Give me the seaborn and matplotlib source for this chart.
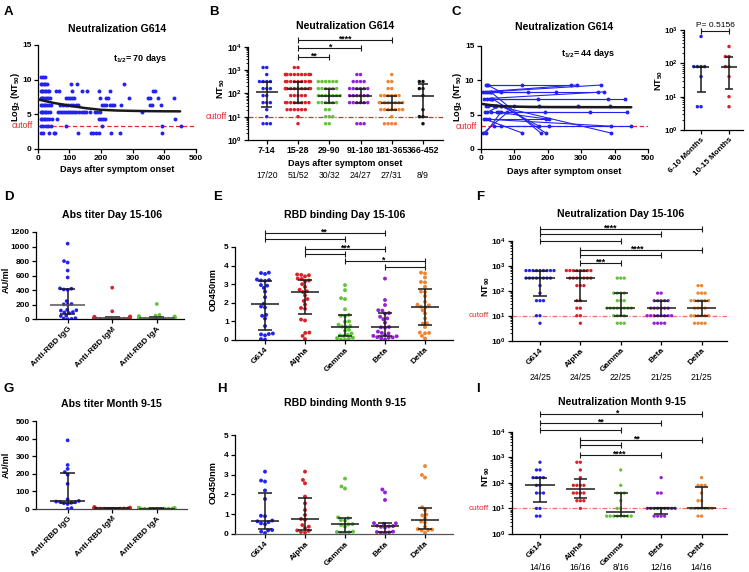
import warnings
warnings.filterwarnings('ignore')
import numpy as np
import pandas as pd
import matplotlib
matplotlib.use('Agg')
import matplotlib.pyplot as plt
import matplotlib.transforms as mtrans
from matplotlib.ticker import FixedLocator, FixedFormatter, NullFormatter
import seaborn as sns

# ---------------- DATA ----------------
# Panel A: log2(NT50) levels and days per level
a_levels = [10.32, 9.32, 8.32, 7.32, 6.32, 5.32, 4.32, 3.32, 2.32]
a_days_l10 = [11, 16, 22]
a_days_l9 = [11, 15, 19, 24, 29, 106, 124, 272]
a_days_l8 = [10, 14, 18, 22, 26, 31, 36, 58, 66, 109, 141, 157, 193, 228, 365, 372]
a_days_l7 = [10, 14, 18, 23, 28, 33, 38, 88, 95, 102, 109, 116, 196, 215, 222, 289, 347, 356, 381, 431]
a_days_l6 = [10, 14, 19, 24, 30, 36, 42, 69, 81, 88, 95, 106, 113, 120, 127, 203, 210, 217, 228, 235,
             241, 264, 354, 362, 389]
a_days_l5 = [9, 13, 17, 22, 27, 33, 38, 63, 69, 76, 82, 88, 95, 101, 108, 115, 122, 132, 139, 146,
             153, 164, 180, 187, 196, 331]
a_days_l4 = [10, 14, 19, 24, 30, 37, 44, 61, 193, 200, 207, 214, 434]
a_days_l3 = [11, 18, 25, 34, 42, 88, 204, 394, 452]
a_days_l2 = [11, 16, 37, 53, 56, 127, 169, 176, 183, 193, 230, 259, 394]
a_fit_days = [0, 25, 50, 75, 100, 150, 200, 250, 300, 350, 400, 450]
a_fit_vals = [7.17, 6.9, 6.65, 6.45, 6.25, 5.9, 5.65, 5.55, 5.5, 5.46, 5.44, 5.43]

# Panel B: NT50 by days after onset
b_cats = ['7-14', '15-28', '29-90', '91-180', '181-365', '366-452']
b_counts = ['17/20', '51/52', '30/32', '24/27', '27/31', '8/9']
b_7_14 = [1280, 1280, 640, 320, 320, 320, 320, 160, 160, 160, 80, 80, 40, 40, 40, 20, 10, 5, 5, 5]
b_15_28 = [1280, 1280, 640, 640, 640, 640, 640, 640, 640, 640, 640, 640, 320, 320, 320, 320, 320, 320,
           320, 320, 320, 160, 160, 160, 160, 160, 160, 160, 160, 160, 160, 80, 80, 80, 80, 80,
           40, 40, 40, 40, 40, 40, 40, 40, 20, 20, 20, 20, 20, 20, 10, 5]
b_29_90 = [320, 320, 320, 320, 320, 320, 160, 160, 160, 160, 160, 160, 80, 80, 80, 80, 80, 80, 80,
           40, 40, 40, 40, 40, 40, 20, 20, 10, 10, 10, 5, 5]
b_91_180 = [640, 640, 320, 320, 320, 320, 160, 160, 160, 160, 160, 160, 80, 80, 80, 80, 80, 80,
            40, 40, 40, 40, 40, 40, 5, 5, 5]
b_181_365 = [640, 320, 320, 160, 160, 80, 80, 80, 80, 80, 80, 40, 40, 40, 40, 40, 40, 40, 40,
             20, 20, 20, 20, 20, 20, 20, 10, 5, 5, 5, 5]
b_366_452 = [320, 320, 160, 160, 80, 20, 10, 10, 5]

# Panel C: paired samples (log2 NT50)
c_day1 = [15, 22, 8, 12, 18, 25, 30, 10, 20, 28, 35, 15, 22, 40, 45, 12, 30, 50, 18, 55, 10, 25,
          15, 40, 60, 8, 15, 30, 35, 45, 60, 20]
c_val1 = [9.32, 9.32, 8.32, 8.32, 8.32, 8.32, 8.32, 7.32, 7.32, 7.32, 7.32, 6.32, 6.32, 6.32, 6.32,
          5.32, 5.32, 5.32, 5.32, 5.32, 4.32, 4.32, 4.32, 3.32, 3.32, 2.32, 2.32, 8.32, 7.32, 6.32,
          6.32, 9.32]
c_day2 = [123, 270, 287, 143, 225, 361, 350, 370, 172, 382, 432, 100, 387, 173, 290, 193, 327, 437,
          60, 205, 195, 390, 125, 450, 205, 80, 60, 180, 195, 390, 175, 60]
c_val2 = [9.32, 9.32, 9.32, 8.32, 8.32, 9.32, 8.32, 8.32, 7.32, 7.32, 7.32, 6.32, 6.32, 6.32, 6.32,
          5.32, 5.32, 5.32, 6.32, 4.32, 4.32, 3.32, 2.32, 3.32, 3.32, 5.32, 5.32, 2.32, 2.32, 2.32,
          3.32, 8.32]
c_fit_days = [0, 25, 50, 75, 100, 150, 200, 300, 450]
c_fit_vals = [6.6, 6.42, 6.3, 6.22, 6.17, 6.12, 6.1, 6.09, 6.08]
ci_cats = ['6-10 Months', '10-15 Months']
ci_early = [640, 80, 80, 80, 80, 40, 5, 5]
ci_late = [320, 160, 160, 80, 80, 40, 10, 5]

# Panel D / G: antibody titers (AU/ml)
ab_cats = ['Anti-RBD IgG', 'Anti-RBD IgM', 'Anti-RBD IgA']
d_igg = [1040, 800, 780, 670, 575, 425, 420, 410, 405, 250, 210, 205, 200, 130, 125, 120, 100, 95,
         85, 50, 45, 15, 10, 5, 2]
d_igm = [435, 110, 40, 35, 30, 28, 25, 22, 20, 18, 16, 15, 14, 12, 11, 10, 9, 8, 7, 6, 5, 4, 3, 2, 1]
d_iga = [210, 60, 50, 45, 40, 35, 30, 28, 25, 22, 20, 18, 16, 14, 12, 10, 9, 8, 7, 6, 5, 4, 3, 2, 1]
g_igg = [390, 250, 228, 210, 195, 143, 55, 46, 42, 40, 38, 35, 33, 28, 5, 1]
g_igm = [12, 8, 6, 5, 5, 4, 4, 3, 3, 3, 2, 2, 2, 1, 1, 1]
g_iga = [8, 6, 5, 4, 4, 3, 3, 3, 2, 2, 2, 2, 1, 1, 1, 1]

# Panel E / H: RBD binding (OD450nm)
var_cats = ['G614', 'Alpha', 'Gamma', 'Beta', 'Delta']
e_g614 = [3.62, 3.6, 3.55, 3.25, 3.22, 3.2, 3.18, 2.95, 2.92, 2.8, 2.6, 2.3, 1.95, 1.8, 1.75, 1.35,
          1.3, 1.15, 0.75, 0.35, 0.32, 0.3, 0.25, 0.05, 0.02]
e_alpha = [3.52, 3.5, 3.48, 3.42, 3.3, 3.28, 3.2, 3.15, 3.0, 2.85, 2.7, 2.62, 2.58, 2.4, 2.2, 2.1,
           1.9, 1.72, 1.68, 1.1, 1.05, 0.4, 0.38, 0.22, 0.05]
e_gamma = [2.95, 2.68, 2.25, 2.2, 1.65, 1.35, 1.3, 1.28, 1.0, 0.98, 0.82, 0.75, 0.72, 0.7, 0.55,
           0.5, 0.35, 0.28, 0.25, 0.22, 0.12, 0.1, 0.08, 0.03, 0.02]
e_beta = [3.3, 2.15, 1.88, 1.6, 1.58, 1.45, 1.42, 1.25, 1.16, 1.12, 0.93, 0.7, 0.68, 0.66, 0.45,
          0.38, 0.35, 0.25, 0.22, 0.2, 0.15, 0.14, 0.12, 0.1, 0.03]
e_delta = [3.62, 3.58, 3.36, 3.12, 3.1, 2.86, 2.6, 2.58, 2.36, 2.05, 1.9, 1.86, 1.79, 1.76, 1.6,
           1.43, 1.16, 0.9, 0.88, 0.7, 0.4, 0.38, 0.36, 0.22, 0.08]
h_g614 = [3.15, 2.7, 2.65, 2.2, 1.77, 0.92, 0.9, 0.68, 0.64, 0.6, 0.54, 0.5, 0.2, 0.18, 0.12, 0.05]
h_alpha = [3.15, 2.73, 2.56, 1.89, 1.55, 1.21, 0.96, 0.76, 0.72, 0.45, 0.37, 0.3, 0.18, 0.16, 0.1, 0.08]
h_gamma = [2.8, 2.4, 2.3, 0.84, 0.8, 0.7, 0.68, 0.5, 0.48, 0.45, 0.38, 0.12, 0.1, 0.08, 0.06, 0.05]
h_beta = [2.25, 2.1, 1.72, 0.55, 0.54, 0.52, 0.42, 0.4, 0.38, 0.36, 0.33, 0.12, 0.1, 0.08, 0.06, 0.05]
h_delta = [3.43, 2.98, 2.85, 1.35, 1.21, 0.98, 0.94, 0.79, 0.63, 0.57, 0.37, 0.25, 0.22, 0.2, 0.18, 0.07]

# Panel F / I: NT90
f_counts = ['24/25', '24/25', '22/25', '21/25', '21/25']
f_g614 = [640, 640, 640, 640, 640, 640, 640, 640, 640, 320, 320, 320, 320, 320, 320, 320, 320,
          160, 80, 40, 40, 40, 10, 10, 5]
f_alpha = [640, 640, 640, 640, 640, 640, 640, 640, 320, 320, 320, 320, 320, 320, 320, 160, 160, 160,
           40, 40, 20, 20, 10, 10, 5]
f_gamma = [320, 320, 320, 80, 80, 80, 80, 40, 40, 40, 20, 20, 20, 20, 20, 20, 20, 20, 10, 10, 10, 10,
           5, 5, 5]
f_beta = [80, 80, 40, 40, 40, 40, 40, 20, 20, 20, 20, 20, 20, 10, 10, 10, 10, 10, 10, 10, 10,
          5, 5, 5, 5]
f_delta = [160, 160, 80, 80, 80, 40, 40, 40, 40, 40, 40, 20, 20, 20, 20, 10, 10, 10, 10, 10, 10,
           5, 5, 5, 5]
i_counts = ['14/16', '16/16', '8/16', '12/16', '14/16']
i_g614 = [640, 320, 320, 160, 160, 160, 160, 80, 80, 40, 40, 40, 10, 10, 5, 5]
i_alpha = [640, 640, 320, 160, 80, 80, 80, 80, 40, 40, 40, 40, 20, 20, 20, 10]
i_gamma = [320, 80, 40, 40, 40, 20, 10, 10, 5, 5, 5, 5, 5, 5, 5, 5]
i_beta = [160, 40, 40, 10, 10, 10, 10, 10, 10, 10, 10, 10, 5, 5, 5, 5]
i_delta = [160, 80, 80, 80, 40, 20, 20, 10, 10, 10, 10, 10, 10, 10, 5, 5]

# significance brackets (x1, x2, y) and labels (text, x, y)
b_br = [(1, 4, 10**4.29), (1, 3, 10**3.93), (1, 2, 10**3.57)]
b_lab = [('****', 2.5, 10**4.29), ('*', 2.0, 10**3.93), ('**', 1.5, 10**3.57)]
e_br = [(0, 3, 5.74), (0, 2, 5.41), (1, 3, 4.88), (1, 2, 4.62), (2, 4, 4.25), (3, 4, 3.94)]
e_lab = [('**', 1.45, 5.74), ('***', 2.0, 4.88), ('*', 2.95, 4.25)]
f_br = [(0, 4, 10**4.456), (0, 3, 10**4.256), (0, 2, 10**3.99), (1, 4, 10**3.63), (1, 3, 10**3.42),
        (1, 2, 10**3.12)]
f_lab = [('****', 1.73, 10**4.456), ('****', 2.39, 10**3.63), ('***', 1.49, 10**3.12)]
i_br = [(0, 4, 10**4.68), (0, 3, 10**4.33), (0, 2, 10**4.07), (1, 4, 10**3.68), (1, 2, 10**3.48),
        (1, 3, 10**3.09)]
i_lab = [('*', 1.9, 10**4.68), ('**', 1.49, 10**4.33), ('**', 2.38, 10**3.68), ('****', 1.96, 10**3.09)]

BLUE = '#2323f0'; RED = '#dc2027'; GREEN = '#62c43a'; PURPLE = '#9420d8'; ORANGE = '#ee8531'
BLACK = '#111111'; CUT = '#e8272b'
var_colors = [BLUE, RED, GREEN, PURPLE, ORANGE]

# ---------------- STYLE ----------------
sns.set_theme(style='ticks')
plt.rcParams.update({
    'font.family': ['Liberation Sans', 'DejaVu Sans'],
    'font.weight': 'bold',
    'mathtext.fontset': 'custom',
    'mathtext.rm': 'Liberation Sans',
    'mathtext.bf': 'Liberation Sans:bold',
    'mathtext.it': 'Liberation Sans:italic',
    'mathtext.sf': 'Liberation Sans',
    'mathtext.default': 'bf',
    'axes.linewidth': 0.9,
    'axes.edgecolor': 'black',
    'xtick.color': 'black', 'ytick.color': 'black',
    'text.color': 'black', 'axes.labelcolor': 'black',
})

W, H = 749, 572
fig = plt.figure(figsize=(W / 100, H / 100), dpi=100)
fig.patch.set_facecolor('white')


def px_ax(l, r, t, b):
    ax = fig.add_axes([l / W, 1 - b / H, (r - l) / W, (b - t) / H])
    ax._px = (l, r, t, b)
    return ax


def ftext(x, y, s, **kw):
    kw.setdefault('ha', 'center')
    kw.setdefault('va', 'center')
    return fig.text(x / W, 1 - y / H, s, **kw)


def ax_x(ax, xpx):
    l, r, t, b = ax._px
    return (xpx - l) / (r - l)


def ax_y(ax, ypx):
    l, r, t, b = ax._px
    return (b - ypx) / (b - t)


def style(ax, labelsize=6):
    sns.despine(ax=ax)
    ax.set_facecolor('white')
    ax.grid(False)
    ax.tick_params(which='major', length=3, width=0.9, labelsize=labelsize, pad=1.5, direction='out')
    ax.tick_params(which='minor', length=1.7, width=0.6, direction='out')
    ax.set_xlabel('')
    ax.set_ylabel('')


def log_axis(ax, top_exp):
    ax.set_yscale('log')
    ax.yaxis.set_major_locator(FixedLocator([10 ** e for e in range(top_exp + 1)]))
    ax.yaxis.set_major_formatter(FixedFormatter([r'$10^{%d}$' % e for e in range(top_exp + 1)]))
    ax.yaxis.set_minor_locator(FixedLocator([k * 10 ** e for e in range(top_exp) for k in range(2, 10)]))
    ax.yaxis.set_minor_formatter(NullFormatter())
    ax.spines['left'].set_bounds(1, 10 ** top_exp)


def cutoff(ax, y, xpx_right, ls, color=CUT, alpha=1.0, fs=6.3):
    ax.axhline(y, color=color, ls=ls, lw=0.9, zorder=1, alpha=alpha)
    tr = mtrans.blended_transform_factory(ax.transAxes, ax.transData)
    ax.text(ax_x(ax, xpx_right), y, 'cutoff', transform=tr, ha='right', va='center', color=CUT,
            fontsize=fs, fontweight='normal', clip_on=False)


def counts(ax, labels, ypx):
    tr = mtrans.blended_transform_factory(ax.transData, ax.transAxes)
    for i, s in enumerate(labels):
        ax.text(i, ax_y(ax, ypx), s, transform=tr, ha='center', va='center', fontsize=6.2,
                fontweight='normal', clip_on=False)


def swarm(ax, groups, names, colors, size, log=False):
    df = pd.DataFrame({'group': np.repeat(names, [len(g) for g in groups]),
                       'value': np.concatenate([np.asarray(g, float) for g in groups])})
    sns.swarmplot(data=df, x='group', y='value', hue='group', order=names, hue_order=names,
                  palette=colors, size=size, linewidth=0, legend=False, ax=ax,
                  log_scale=True if log else None, zorder=2, warn_thresh=1)


def med_iqr(ax, groups, med_w=0.33, cap_w=0.16, color='k', lw=1.1, med_color=None):
    for i, g in enumerate(groups):
        q1, med, q3 = np.percentile(g, [25, 50, 75], method='weibull')
        ax.vlines(i, q1, q3, color=color, lw=lw, zorder=3)
        ax.hlines([q1, q3], i - cap_w, i + cap_w, color=color, lw=lw, zorder=3)
        ax.hlines(med, i - med_w, i + med_w, color=med_color or color, lw=lw, zorder=3)


def brackets(ax, brs, labs, fs=6.3):
    for x1, x2, y in brs:
        ax.plot([x1, x2], [y, y], color='k', lw=0.8, clip_on=False, zorder=4)
        ax.plot([x1, x2], [y, y], ls='none', marker='|', ms=4.5, mew=0.8, color='k', clip_on=False,
                zorder=4)
    for s, x, y in labs:
        ax.annotate(s, xy=(x, y), xytext=(0, -1.2), textcoords='offset points', ha='center',
                    va='baseline', fontsize=fs, fontweight='bold', annotation_clip=False)


def rot_labels(ax):
    for lab in ax.get_xticklabels():
        lab.set_rotation(45)
        lab.set_ha('right')
        lab.set_rotation_mode('anchor')


TITLE = dict(fontsize=7.6, fontweight='bold')
LAB = dict(fontsize=6.6, fontweight='bold')
LETTER = dict(fontsize=9.5, fontweight='bold', ha='left')

# ---------------- PANEL A ----------------
axA = px_ax(37.7, 196, 45, 149)
a_days_lists = [a_days_l10, a_days_l9, a_days_l8, a_days_l7, a_days_l6, a_days_l5, a_days_l4,
                a_days_l3, a_days_l2]
a_days = np.concatenate(a_days_lists)
a_vals = np.repeat(a_levels, [len(d) for d in a_days_lists])
sns.scatterplot(x=a_days, y=a_vals, color=BLUE, s=8, linewidth=0, ax=axA, zorder=2)
sns.lineplot(x=a_fit_days, y=a_fit_vals, color='k', lw=1.8, ax=axA, zorder=3)
axA.set_xlim(0, 500); axA.set_ylim(0, 15)
axA.set_xticks([0, 100, 200, 300, 400, 500]); axA.set_yticks([0, 5, 10, 15])
style(axA)
cutoff(axA, 3.32, 33, (0, (3.5, 2)))
axA.text(238, 13, r't$_{1/2}$= 70 days', fontsize=6.5, fontweight='bold', va='center')
ftext(117, 29, 'Neutralization G614', **TITLE)
ftext(117, 169, 'Days after symptom onset', **LAB)
ftext(15, 97, r'Log$_2$ (NT$_{50}$)', rotation=90, **LAB)
ftext(4, 12, 'A', **LETTER)

# ---------------- PANEL B ----------------
axB = px_ax(248, 443, 36.2, 140)
b_groups = [b_7_14, b_15_28, b_29_90, b_91_180, b_181_365, b_366_452]
swarm(axB, b_groups, b_cats, [BLUE, RED, GREEN, PURPLE, ORANGE, BLACK], 2.5, log=True)
med_iqr(axB, b_groups, med_w=0.36, cap_w=0.17)
log_axis(axB, 4)
axB.set_ylim(1, 10 ** 4.45); axB.set_xlim(-0.6, 5.64)
style(axB, labelsize=6.3)
cutoff(axB, 10, 227, (0, (4, 1.5, 1, 1.5)))
brackets(axB, b_br, b_lab)
counts(axB, b_counts, 176)
ftext(345, 26, 'Neutralization G614', **TITLE)
ftext(345, 163, 'Days after symptom onset', **LAB)
ftext(221, 88, r'NT$_{50}$', rotation=90, **LAB)
ftext(209, 12, 'B', **LETTER)

# ---------------- PANEL C ----------------
axC = px_ax(480.6, 648, 46, 149)
dfc = pd.DataFrame({'pair': np.concatenate([np.arange(len(c_day1)), np.arange(len(c_day2))]),
                    'day': np.concatenate([c_day1, c_day2]),
                    'val': np.concatenate([c_val1, c_val2])})
sns.lineplot(data=dfc, x='day', y='val', units='pair', estimator=None, color=BLUE, lw=0.8,
             marker='o', markersize=2.8, markeredgewidth=0, ax=axC, sort=False, zorder=2)
sns.lineplot(x=c_fit_days, y=c_fit_vals, color='k', lw=1.8, ax=axC, zorder=3)
axC.set_xlim(0, 500); axC.set_ylim(0, 15)
axC.set_xticks([0, 100, 200, 300, 400, 500]); axC.set_yticks([0, 5, 10, 15])
style(axC)
cutoff(axC, 3.32, 477, (0, (3.5, 2)))
axC.text(240, 13.9, r't$_{1/2}$= 44 days', fontsize=6.5, fontweight='bold', va='center')
ftext(564, 27, 'Neutralization G614', **TITLE)
ftext(564, 171, 'Days after symptom onset', **LAB)
ftext(457, 97, r'Log$_2$ (NT$_{50}$)', rotation=90, **LAB)
ftext(451, 12, 'C', **LETTER)

axCi = px_ax(684, 743, 16.7, 130)
ci_groups = [ci_early, ci_late]
swarm(axCi, ci_groups, ci_cats, [BLUE, RED], 2.5, log=True)
med_iqr(axCi, ci_groups, med_w=0.3, cap_w=0.16)
log_axis(axCi, 3)
axCi.set_ylim(1, 10 ** 3.4); axCi.set_xlim(-0.61, 1.5)
style(axCi, labelsize=5.8)
rot_labels(axCi)
axCi.plot([0, 1], [10 ** 2.97] * 2, color='k', lw=0.8, clip_on=False)
axCi.plot([0, 1], [10 ** 2.97] * 2, ls='none', marker='|', ms=4.5, mew=0.8, color='k', clip_on=False)
axCi.annotate('P= 0.5156', xy=(0.5, 10 ** 2.97), xytext=(0, 1.5), textcoords='offset points',
              ha='center', va='bottom', fontsize=6, fontweight='normal', annotation_clip=False)
ftext(659, 80, r'NT$_{50}$', rotation=90, **LAB)

# ---------------- PANEL D ----------------
axD = px_ax(36, 184, 232, 319.3)
d_groups = [d_igg, d_igm, d_iga]
swarm(axD, d_groups, ab_cats, [BLUE, RED, GREEN], 2.7)
med_iqr(axD, d_groups, med_w=0.4, cap_w=0.17, med_color='#555555')
axD.set_ylim(0, 1200); axD.set_xlim(-0.71, 2.61)
axD.set_yticks([0, 200, 400, 600, 800, 1000, 1200])
style(axD)
rot_labels(axD)
ftext(112, 215, 'Abs titer Day 15-106', **TITLE)
ftext(6, 280, 'AU/ml', rotation=90, **LAB)
ftext(4, 197.5, 'D', **LETTER)

# ---------------- PANEL E ----------------
axE = px_ax(235, 453, 226.5, 340)
e_groups = [e_g614, e_alpha, e_gamma, e_beta, e_delta]
swarm(axE, e_groups, var_cats, var_colors, 2.8)
med_iqr(axE, e_groups, med_w=0.36, cap_w=0.17)
axE.set_ylim(0, 6.1); axE.set_xlim(-0.75, 4.7)
axE.set_yticks([0, 1, 2, 3, 4, 5])
axE.spines['left'].set_bounds(0, 5)
style(axE)
rot_labels(axE)
brackets(axE, e_br, e_lab)
ftext(345, 215, 'RBD binding Day 15-106', **TITLE)
ftext(213, 290, 'OD450nm', rotation=90, **LAB)
ftext(213, 197.5, 'E', **LETTER)

# ---------------- PANEL F ----------------
axF = px_ax(511.7, 727, 222, 340.7)
f_groups = [f_g614, f_alpha, f_gamma, f_beta, f_delta]
swarm(axF, f_groups, var_cats, var_colors, 2.4, log=True)
med_iqr(axF, f_groups, med_w=0.36, cap_w=0.17)
log_axis(axF, 4)
axF.set_ylim(1, 10 ** 4.75); axF.set_xlim(-0.7, 4.63)
style(axF)
rot_labels(axF)
cutoff(axF, 10, 488.5, (0, (4, 1.5, 1, 1.5)), color='#ef6f6f', fs=5.9)
brackets(axF, f_br, f_lab)
counts(axF, f_counts, 378)
ftext(620.5, 214, 'Neutralization Day 15-106', **TITLE)
ftext(486, 286, r'NT$_{90}$', rotation=90, **LAB)
ftext(476, 197.5, 'F', **LETTER)

# ---------------- PANEL G ----------------
axG = px_ax(36, 187, 421, 509)
g_groups = [g_igg, g_igm, g_iga]
swarm(axG, g_groups, ab_cats, [BLUE, RED, GREEN], 2.7)
med_iqr(axG, g_groups, med_w=0.4, cap_w=0.17)
axG.set_ylim(0, 500); axG.set_xlim(-0.71, 2.68)
axG.set_yticks([0, 100, 200, 300, 400, 500])
style(axG)
axG.spines['bottom'].set_color('#444444')
rot_labels(axG)
ftext(111, 404, 'Abs titer Month 9-15', **TITLE)
ftext(6, 465, 'AU/ml', rotation=90, **LAB)
ftext(4, 388.5, 'G', **LETTER)

# ---------------- PANEL H ----------------
axH = px_ax(235, 453, 435, 534)
h_groups = [h_g614, h_alpha, h_gamma, h_beta, h_delta]
swarm(axH, h_groups, var_cats, var_colors, 2.8)
med_iqr(axH, h_groups, med_w=0.36, cap_w=0.17)
axH.set_ylim(0, 5); axH.set_xlim(-0.75, 4.7)
axH.set_yticks([0, 1, 2, 3, 4, 5])
style(axH)
axH.spines['bottom'].set_color('#555555')
rot_labels(axH)
ftext(345.5, 403, 'RBD binding Month 9-15', **TITLE)
ftext(213, 483, 'OD450nm', rotation=90, **LAB)
ftext(217, 388.5, 'H', **LETTER)

# ---------------- PANEL I ----------------
axI = px_ax(511.7, 727, 408.7, 534)
i_groups = [i_g614, i_alpha, i_gamma, i_beta, i_delta]
swarm(axI, i_groups, var_cats, var_colors, 2.4, log=True)
med_iqr(axI, i_groups, med_w=0.36, cap_w=0.17)
log_axis(axI, 4)
axI.set_ylim(1, 10 ** 4.9); axI.set_xlim(-0.7, 4.63)
style(axI)
rot_labels(axI)
cutoff(axI, 10, 488.5, (0, (4, 1.5, 1, 1.5)), color='#ef6f6f', fs=5.9)
brackets(axI, i_br, i_lab)
counts(axI, i_counts, 568)
ftext(621.5, 402, 'Neutralization Month 9-15', **TITLE)
ftext(486, 476, r'NT$_{90}$', rotation=90, **LAB)
ftext(476, 388.5, 'I', **LETTER)

fig.savefig('out.png', dpi=100, facecolor='white')
